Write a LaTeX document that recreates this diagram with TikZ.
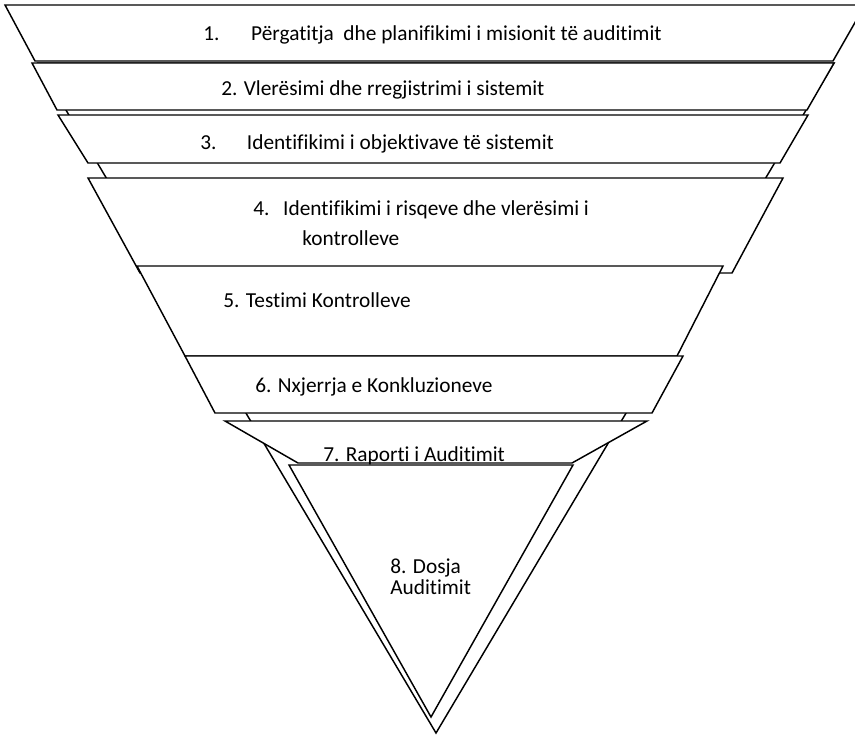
\documentclass[tikz,border=0pt]{standalone}
\usepackage{fontspec}
\setmainfont{Carlito}[Ligatures=NoCommon]
\usepackage{tikz}
\begin{document}
\begin{tikzpicture}[
  x=0.75pt,y=-0.75pt,
  layer/.style={draw=black,fill=white,line width=1.1pt,line join=miter},
  lbl/.style={inner sep=0pt,anchor=base west,font=\fontsize{16}{22.5}\selectfont}
]
\useasboundingbox (0,0) rectangle (855,736);
% back triangle, seen between the layers
\draw[layer] (38,63) -- (834,63) -- (436,733) -- cycle;
% layers, top to bottom
\draw[layer] (5,5) -- (865,5) -- (833,61) -- (35,61) -- cycle;
\draw[layer] (32,63) -- (834,63) -- (807,110) -- (57,110) -- cycle;
\draw[layer] (58,115) -- (808,115) -- (780,163) -- (88,163) -- cycle;
\draw[layer] (88,178) -- (783,178) -- (732,273) -- (140,273) -- cycle;
\draw[layer] (137,266) -- (723,266) -- (677,356) -- (185,356) -- cycle;
\draw[layer] (185,356) -- (683,356) -- (652,413) -- (215,413) -- cycle;
\draw[layer] (225,421) -- (647,421) -- (572,463) -- (298,463) -- cycle;
\draw[layer] (289,465) -- (573,465) -- (431,717) -- cycle;
% labels
\node[lbl] (t1) at (203,40) {\makebox[36pt][l]{1.}Përgatitja\ \ dhe planifikimi i misionit të auditimit};
\node[lbl] (t2) at (221,95) {2. Vlerësimi dhe rregjistrimi i sistemit};
\node[lbl] (t3) at (200,149) {\makebox[35pt][l]{3.}Identifikimi i objektivave të sistemit};
\node[lbl] (t4) at (253,215) {\makebox[22.5pt][l]{4.}Identifikimi i risqeve dhe vlerësimi i};
\node[lbl] (t4b) at (302,245) {kontrolleve};
\node[lbl] (t5) at (223,307) {5. Testimi Kontrolleve};
\node[lbl] (t6) at (255,392) {6. Nxjerrja e Konkluzioneve};
\node[lbl] (t7) at (323,461) {7. Raporti i Auditimit};
\node[lbl] (t8) at (390,573) {8. Dosja};
\node[lbl] (t8b) at (390,594) {Auditimit};
\end{tikzpicture}
\end{document}
